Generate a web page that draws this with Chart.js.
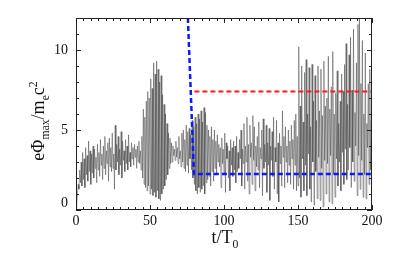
<!DOCTYPE html>
<html><head><meta charset="utf-8">
<script src="https://cdn.jsdelivr.net/npm/chart.js@4/dist/chart.umd.min.js"></script>
<style>html,body{margin:0;padding:0;background:#fff;}canvas{display:block;}</style>
</head><body>
<canvas id="c" width="415" height="257"></canvas>
<script>
// Sampling step of the gray signal (t/T0)
const timeStep = 0.5;
// eΦmax/mec², one value every 0.5 T0 from t=0 to t=200
const phiValues = [
 0, 0.4, 1.0, 1.6, 1.3, 2.5, 1.7, 3.0, 1.5, 3.6,
 1.9, 3.2, 1.4, 3.9, 2.2, 3.4, 1.8, 4.3, 2.4, 3.7,
 1.6, 3.5, 2.3, 4.0, 2.0, 3.8, 2.6, 3.3, 1.7, 4.1,
 2.5, 3.6, 2.1, 4.4, 2.8, 3.5, 1.9, 4.0, 2.6, 4.6,
 2.2, 3.7, 2.9, 4.2, 1.8, 4.5, 2.7, 3.9, 2.4, 4.8,
 2.6, 3.5, 1.3, 5.3, 2.5, 4.1, 3.0, 4.6, 2.2, 3.8,
 2.8, 4.9, 2.0, 4.3, 3.1, 3.7, 2.4, 4.4, 2.9, 4.0,
 2.5, 4.7, 3.0, 3.6, 2.7, 4.2, 3.2, 3.9, 2.8, 4.1,
 3.3, 3.8, 2.6, 4.0, 3.0, 4.3, 2.9, 3.7, 2.5, 4.6,
 2.0, 6.3, 1.6, 5.8, 1.4, 6.8, 1.2, 7.4, 1.5, 7.0,
 1.0, 8.2, 1.3, 7.6, 0.9, 9.2, 1.1, 8.5, 0.8, 9.3,
 1.2, 8.8, 0.7, 8.0, 0.6, 8.4, 1.0, 7.2, 1.3, 6.6,
 1.5, 6.0, 1.9, 5.4, 2.2, 4.8, 2.6, 4.5, 2.9, 4.2,
 3.0, 4.0, 3.4, 3.8, 3.1, 4.3, 3.3, 3.9, 2.9, 4.6,
 3.2, 3.7, 2.7, 4.8, 3.0, 5.0, 2.6, 4.4, 2.4, 5.3,
 2.8, 4.9, 2.3, 5.1, 3.2, 4.7, 2.5, 5.6, 2.0, 5.2,
 1.6, 5.8, 1.2, 5.4, 1.0, 6.0, 1.4, 5.7, 1.1, 6.2,
 1.3, 5.5, 1.5, 6.4, 1.0, 6.1, 1.7, 5.3, 1.9, 5.0,
 2.1, 4.6, 1.5, 5.2, 2.4, 4.4, 1.8, 5.0, 2.6, 4.3,
 2.2, 4.7, 3.0, 4.1, 2.7, 3.9, 1.4, 4.5, 2.9, 3.8,
 2.3, 4.8, 1.1, 4.2, 3.2, 4.0, 2.0, 3.7, 1.2, 4.4,
 2.8, 3.9, 2.1, 4.3, 2.5, 4.0, 1.7, 4.6, 2.4, 3.6,
 2.6, 4.4, 3.2, 5.0, 1.5, 3.8, 2.9, 5.4, 1.3, 4.0,
 3.0, 5.8, 1.8, 4.1, 1.0, 5.3, 3.3, 4.2, 1.6, 5.9,
 3.1, 5.2, 1.2, 4.0, 2.7, 4.6, 2.5, 5.5, 1.4, 3.9,
 3.2, 5.0, 0.9, 5.7, 2.6, 4.1, 3.0, 5.3, 1.1, 4.2,
 2.8, 5.1, 0.6, 4.0, 3.1, 4.9, 2.1, 5.8, 1.3, 3.9,
 3.0, 5.6, 1.0, 4.2, 0.5, 4.8, 2.9, 4.0, 1.5, 6.2,
 3.3, 4.6, 1.4, 5.2, 3.0, 4.0, 1.7, 5.0, 2.8, 4.3,
 1.6, 5.3, 3.2, 4.4, 1.3, 5.6, 2.8, 6.0, 1.2, 4.6,
 1.5, 10.2, 2.0, 6.5, 0.8, 9.0, 3.2, 5.5, 1.2, 8.6,
 2.8, 9.4, 0.9, 6.0, 3.5, 8.9, 1.3, 5.2, 0.5, 9.1,
 3.0, 6.8, 0.3, 8.4, 2.4, 5.6, 0.7, 9.0, 3.3, 6.2,
 0.6, 8.8, 2.6, 5.9, 0.2, 9.3, 3.1, 6.5, 1.0, 7.0,
 2.9, 9.6, 0.5, 6.3, 3.4, 7.7, 0.4, 9.9, 2.2, 6.0,
 0.8, 7.3, 3.2, 8.7, 1.5, 5.4, 3.0, 6.8, 1.2, 8.5,
 3.6, 7.4, 1.6, 9.1, 3.8, 10.4, 1.9, 6.6, 2.5, 9.7,
 3.9, 10.8, 1.4, 7.5, 3.0, 11.3, 1.8, 6.1, 4.0, 9.2,
 0.9, 11.6, 3.4, 12.0, 1.3, 7.9, 3.1, 10.6, 0.8, 6.0,
 2.2, 9.8, 0.7, 5.4, 3.9, 7.9, 1.6, 8.8, 2.5, 5.6,
 2.5
];
// Blue dashed threshold line
const blueT = [75.6, 79.7, 200];
const blueY = [12.0, 2.25, 2.25];
// Red dashed level line
const redT = [80, 200];
const redY = [7.4, 7.4];
// Axis ticks
const xTickLabels = [0, 50, 100, 150, 200];
const yTickLabels = [0, 5, 10];

const grayData = phiValues.map((v, i) => ({x: i * timeStep, y: v}));
const blueData = blueT.map((t, i) => ({x: t, y: blueY[i]}));
const redData = redT.map((t, i) => ({x: t, y: redY[i]}));

const SERIF = '"Liberation Serif", "Times New Roman", serif';

function richWidth(ctx, parts, size) {
  let w = 0;
  for (const p of parts) {
    ctx.font = (p.s ? size * 0.65 : size) + 'px ' + SERIF;
    w += ctx.measureText(p.t).width;
  }
  return w;
}
function drawRich(ctx, parts, x, y, size) {
  const w = richWidth(ctx, parts, size);
  let cx = x - w / 2;
  for (const p of parts) {
    const fs = p.s ? size * 0.65 : size;
    ctx.font = fs + 'px ' + SERIF;
    let dy = 0;
    if (p.s === 'sub') dy = size * 0.28;
    if (p.s === 'sup') dy = -size * 0.38;
    ctx.fillText(p.t, cx, y + dy);
    cx += ctx.measureText(p.t).width;
  }
}

const framePlugin = {
  id: 'frame',
  afterDraw(chart) {
    const ctx = chart.ctx, a = chart.chartArea;
    const xs = chart.scales.x, ys = chart.scales.y;
    ctx.save();
    ctx.strokeStyle = '#222';
    ctx.lineWidth = 1;
    ctx.strokeRect(Math.round(a.left) + 0.5, Math.round(a.top) + 0.5,
      Math.round(a.right - a.left) - 1, Math.round(a.bottom - a.top) - 1);
    ctx.beginPath();
    for (let v = 0; v <= 200; v += 5) {
      const px = Math.round(xs.getPixelForValue(v)) + 0.5;
      const len = v % 50 === 0 ? 5 : 3;
      ctx.moveTo(px, a.bottom); ctx.lineTo(px, a.bottom - len);
      ctx.moveTo(px, a.top); ctx.lineTo(px, a.top + len);
    }
    for (let v = 0; v <= 12; v += 1) {
      const py = Math.round(ys.getPixelForValue(v)) + 0.5;
      const len = v % 5 === 0 ? 5 : 3;
      ctx.moveTo(a.left, py); ctx.lineTo(a.left + len, py);
      ctx.moveTo(a.right, py); ctx.lineTo(a.right - len, py);
    }
    ctx.stroke();

    ctx.fillStyle = '#111';
    ctx.font = '14px ' + SERIF;
    ctx.textAlign = 'center';
    ctx.textBaseline = 'middle';
    for (const v of xTickLabels) {
      ctx.fillText(String(v), xs.getPixelForValue(v), a.bottom + 11);
    }
    ctx.textAlign = 'right';
    for (const v of yTickLabels) {
      let py = ys.getPixelForValue(v);
      if (v === 0) py -= 7;
      ctx.fillText(String(v), a.left - 8, py);
    }
    // axis titles
    ctx.textAlign = 'left';
    ctx.textBaseline = 'alphabetic';
    drawRich(ctx, [{t: 't/T'}, {t: '0', s: 'sub'}], 225, 243, 18);
    ctx.save();
    ctx.translate(44, 121);
    ctx.rotate(-Math.PI / 2);
    drawRich(ctx, [{t: 'eΦ'}, {t: 'max', s: 'sub'}, {t: '/m'}, {t: 'e', s: 'sub'}, {t: 'c'}, {t: '2', s: 'sup'}], 0, 0, 18);
    ctx.restore();
    ctx.restore();
  }
};

new Chart(document.getElementById('c'), {
  type: 'line',
  data: {
    datasets: [
      {data: grayData, borderColor: 'rgba(60,60,60,0.6)', borderWidth: 0.8, pointRadius: 0, tension: 0, order: 3},
      {data: redData, borderColor: '#ff1a1a', borderWidth: 2, borderDash: [5, 3], pointRadius: 0, order: 2},
      {data: blueData, borderColor: '#0a1aff', borderWidth: 2.5, borderDash: [5, 3], pointRadius: 0, order: 1}
    ]
  },
  options: {
    responsive: false,
    devicePixelRatio: 1,
    animation: false,
    events: [],
    layout: {padding: {left: 0, top: 18, right: 43, bottom: 0}},
    plugins: {legend: {display: false}, tooltip: {enabled: false}},
    scales: {
      x: {
        type: 'linear', min: 0, max: 200,
        grid: {display: false, drawTicks: false},
        border: {display: false},
        ticks: {display: false},
        afterFit(s) { s.height = 47; }
      },
      y: {
        type: 'linear', min: 0, max: 12,
        grid: {display: false, drawTicks: false},
        border: {display: false},
        ticks: {display: false},
        afterFit(s) { s.width = 76; }
      }
    }
  },
  plugins: [framePlugin]
});
</script>
</body></html>
